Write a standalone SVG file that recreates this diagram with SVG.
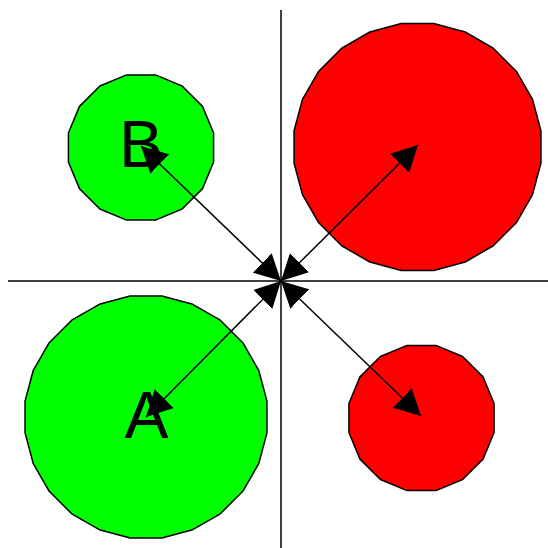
<svg xmlns="http://www.w3.org/2000/svg" width="548" height="548" viewBox="0 0 548 548">
<style>
.g{fill:#00ff00;stroke:#000;stroke-width:1.5;stroke-linejoin:round}
.r{fill:#ff0000;stroke:#000;stroke-width:1.5;stroke-linejoin:round}
.ax{stroke:#000;stroke-width:1.5;fill:none}
.ar{stroke:#000;stroke-width:1.5;fill:none;marker-start:url(#h);marker-end:url(#h)}
.lbl{font-family:"Liberation Sans",Arial,sans-serif;font-size:66px;fill:#000;text-anchor:middle}
</style>
<defs>
<marker id="h" viewBox="0 0 26 27" refX="26" refY="13.5" markerWidth="26" markerHeight="27" markerUnits="userSpaceOnUse" orient="auto-start-reverse">
<path d="M0,0 L26,13.5 L0,27 Z" fill="#000"/>
</marker>
</defs>
<g id="nodeB">
<polygon class="g" points="213.58,133.06 202.53,106.39 182.11,85.97 155.44,74.92 126.56,74.92 99.89,85.97 79.47,106.39 68.42,133.06 68.42,161.94 79.47,188.61 99.89,209.03 126.56,220.08 155.44,220.08 182.11,209.03 202.53,188.61 213.58,161.94"/>
<text class="lbl" x="141" y="167">B</text>
</g>
<g id="nodeTR">
<polygon class="r" points="540.93,130.75 532.52,99.36 516.27,71.21 493.29,48.23 465.14,31.98 433.75,23.57 401.25,23.57 369.86,31.98 341.71,48.23 318.73,71.21 302.48,99.36 294.07,130.75 294.07,163.25 302.48,194.64 318.73,222.79 341.71,245.77 369.86,262.02 401.25,270.43 433.75,270.43 465.14,262.02 493.29,245.77 516.27,222.79 532.52,194.64 540.93,163.25"/>
</g>
<g id="nodeA">
<polygon class="g" points="266.96,401.08 258.71,370.31 242.79,342.73 220.27,320.21 192.69,304.29 161.92,296.04 130.08,296.04 99.31,304.29 71.73,320.21 49.21,342.73 33.29,370.31 25.04,401.08 25.04,432.92 33.29,463.69 49.21,491.27 71.73,513.79 99.31,529.71 130.08,537.96 161.92,537.96 192.69,529.71 220.27,513.79 242.79,491.27 258.71,463.69 266.96,432.92"/>
<text class="lbl" x="146.5" y="438">A</text>
</g>
<g id="nodeBR">
<polygon class="r" points="494.08,403.56 483.03,376.89 462.61,356.47 435.94,345.42 407.06,345.42 380.39,356.47 359.97,376.89 348.92,403.56 348.92,432.44 359.97,459.11 380.39,479.53 407.06,490.58 435.94,490.58 462.61,479.53 483.03,459.11 494.08,432.44"/>
</g>
<g id="axes">
<line class="ax" x1="281" y1="10" x2="281" y2="548"/>
<line class="ax" x1="8" y1="281" x2="548" y2="281"/>
</g>
<g id="connectors">
<line class="ar" x1="281" y1="281" x2="141" y2="146"/>
<line class="ar" x1="281" y1="281" x2="418" y2="145"/>
<line class="ar" x1="281" y1="281" x2="146" y2="417"/>
<line class="ar" x1="281" y1="281" x2="421" y2="416"/>
</g>
</svg>
